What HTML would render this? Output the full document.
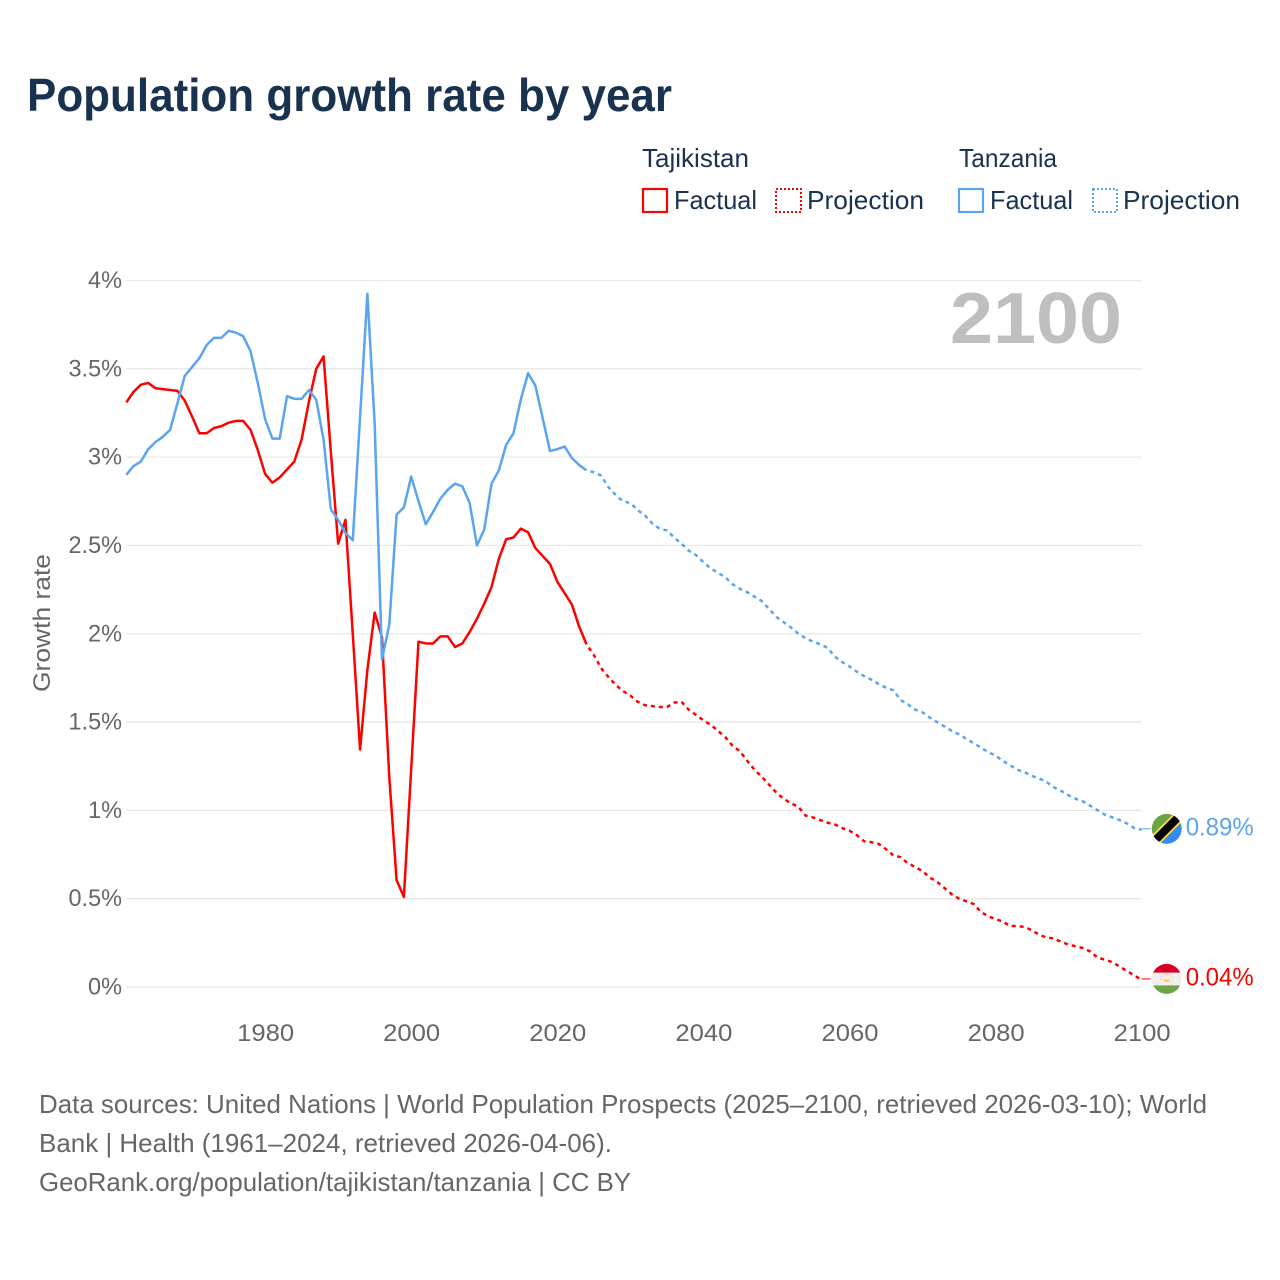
<!DOCTYPE html>
<html lang="en">
<head>
<meta charset="utf-8">
<title>Population growth rate by year</title>
<style>
html,body{margin:0;padding:0;background:#fff;}
svg{display:block;font-family:"Liberation Sans",sans-serif;}
</style>
</head>
<body>
<svg id="chart" xmlns="http://www.w3.org/2000/svg" width="1280" height="1280" viewBox="0 0 1280 1280">
  <rect x="0" y="0" width="1280" height="1280" fill="#ffffff"/>
  <text x="27" y="111" font-size="46" font-weight="700" fill="#18324f" textLength="645" lengthAdjust="spacingAndGlyphs">Population growth rate by year</text>

  <g font-size="26" fill="#18324f">
    <text x="642" y="167" textLength="107" lengthAdjust="spacingAndGlyphs">Tajikistan</text>
    <rect x="643" y="189" width="24" height="23" fill="none" stroke="#ff0000" stroke-width="2.2"/>
    <text x="674" y="209" textLength="83" lengthAdjust="spacingAndGlyphs">Factual</text>
    <rect x="776" y="189" width="25" height="23" fill="none" stroke="#ff0000" stroke-width="2" stroke-dasharray="2 2"/>
    <text x="807" y="209" textLength="117" lengthAdjust="spacingAndGlyphs">Projection</text>
    <text x="959" y="167" textLength="98" lengthAdjust="spacingAndGlyphs">Tanzania</text>
    <rect x="959" y="189" width="24" height="23" fill="none" stroke="#5ba4ee" stroke-width="2.2"/>
    <text x="990" y="209" textLength="83" lengthAdjust="spacingAndGlyphs">Factual</text>
    <rect x="1093" y="189" width="24" height="23" fill="none" stroke="#5ba4ee" stroke-width="2" stroke-dasharray="2 2"/>
    <text x="1123" y="209" textLength="117" lengthAdjust="spacingAndGlyphs">Projection</text>
  </g>

  <g id="grid"></g>
  <text x="950" y="343" font-size="72" font-weight="700" fill="#bfbfbf" textLength="172" lengthAdjust="spacingAndGlyphs">2100</text>
  <g id="yTicks" font-size="24" fill="#666666"></g>
  <g id="xTicks" font-size="24" fill="#666666"></g>
  <text transform="translate(50,623) rotate(-90)" text-anchor="middle" font-size="24" fill="#666666" textLength="138" lengthAdjust="spacingAndGlyphs">Growth rate</text>
  <g id="series" fill="none" stroke-width="2.5" stroke-linejoin="round"></g>

  <defs>
    <clipPath id="flagClipTz"><circle id="clipTz" r="15" cx="1167" cy="829"/></clipPath>
    <clipPath id="flagClipTj"><circle id="clipTj" r="15" cx="1167" cy="979"/></clipPath>
  </defs>
  <g id="flagTz" clip-path="url(#flagClipTz)"></g>
  <g id="flagTj" clip-path="url(#flagClipTj)"></g>
  <g id="endLabels" font-size="25"></g>

  <g font-size="26" fill="#666666">
    <text x="39" y="1113" textLength="1168" lengthAdjust="spacingAndGlyphs">Data sources: United Nations | World Population Prospects (2025–2100, retrieved 2026-03-10); World</text>
    <text x="39" y="1152" textLength="573" lengthAdjust="spacingAndGlyphs">Bank | Health (1961–2024, retrieved 2026-04-06).</text>
    <text x="39" y="1191" textLength="592" lengthAdjust="spacingAndGlyphs">GeoRank.org/population/tajikistan/tanzania | CC BY</text>
  </g>
</svg>
<script>
const factualYears = [1961,1962,1963,1964,1965,1966,1967,1968,1969,1970,1971,1972,1973,1974,1975,1976,1977,1978,1979,1980,1981,1982,1983,1984,1985,1986,1987,1988,1989,1990,1991,1992,1993,1994,1995,1996,1997,1998,1999,2000,2001,2002,2003,2004,2005,2006,2007,2008,2009,2010,2011,2012,2013,2014,2015,2016,2017,2018,2019,2020,2021,2022,2023,2024];
const projectionYears = [2024,2025,2026,2027,2028,2029,2030,2031,2032,2033,2034,2035,2036,2037,2038,2039,2040,2041,2042,2043,2044,2045,2046,2047,2048,2049,2050,2051,2052,2053,2054,2055,2056,2057,2058,2059,2060,2061,2062,2063,2064,2065,2066,2067,2068,2069,2070,2071,2072,2073,2074,2075,2076,2077,2078,2079,2080,2081,2082,2083,2084,2085,2086,2087,2088,2089,2090,2091,2092,2093,2094,2095,2096,2097,2098,2099,2100];
const tajikistanFactual = [3.31,3.37,3.41,3.42,3.39,3.385,3.38,3.375,3.32,3.23,3.135,3.135,3.165,3.175,3.195,3.205,3.205,3.155,3.04,2.905,2.855,2.885,2.93,2.975,3.10,3.315,3.50,3.57,3.03,2.51,2.645,2.0,1.345,1.795,2.12,1.98,1.19,0.605,0.51,1.235,1.955,1.945,1.945,1.985,1.985,1.925,1.945,2.01,2.085,2.17,2.265,2.425,2.535,2.545,2.595,2.575,2.485,2.44,2.395,2.295,2.23,2.165,2.04,1.94];
const tanzaniaFactual = [2.90,2.95,2.975,3.045,3.085,3.115,3.155,3.305,3.46,3.51,3.56,3.635,3.675,3.675,3.715,3.705,3.685,3.60,3.42,3.215,3.105,3.105,3.345,3.33,3.33,3.38,3.325,3.10,2.705,2.645,2.57,2.53,3.225,3.925,3.19,1.855,2.05,2.675,2.715,2.89,2.75,2.62,2.69,2.765,2.815,2.85,2.835,2.74,2.50,2.59,2.85,2.925,3.07,3.135,3.325,3.475,3.405,3.22,3.035,3.045,3.06,2.995,2.955,2.925];
const tajikistanProjection = [1.94,1.88,1.805,1.755,1.71,1.675,1.65,1.615,1.595,1.59,1.585,1.585,1.61,1.615,1.57,1.54,1.51,1.485,1.45,1.415,1.365,1.335,1.28,1.23,1.19,1.145,1.10,1.065,1.04,1.02,0.97,0.96,0.945,0.93,0.92,0.90,0.885,0.86,0.825,0.82,0.81,0.78,0.745,0.735,0.70,0.68,0.655,0.62,0.595,0.56,0.525,0.50,0.485,0.47,0.425,0.40,0.385,0.37,0.345,0.345,0.34,0.32,0.295,0.28,0.275,0.255,0.24,0.23,0.22,0.20,0.165,0.155,0.14,0.115,0.09,0.065,0.04];
const tanzaniaProjection = [2.925,2.915,2.895,2.83,2.785,2.75,2.74,2.70,2.67,2.625,2.595,2.585,2.545,2.51,2.47,2.445,2.405,2.37,2.345,2.32,2.28,2.255,2.235,2.21,2.185,2.14,2.095,2.065,2.035,2.00,1.975,1.955,1.94,1.92,1.87,1.84,1.815,1.785,1.76,1.74,1.715,1.695,1.68,1.625,1.60,1.57,1.555,1.525,1.50,1.475,1.45,1.43,1.405,1.38,1.355,1.33,1.31,1.28,1.255,1.23,1.215,1.195,1.18,1.16,1.13,1.11,1.085,1.065,1.05,1.025,1.00,0.975,0.96,0.945,0.925,0.90,0.89];
const yTickValues = [0,0.5,1,1.5,2,2.5,3,3.5,4];
const yTickLabels = ['0%','0.5%','1%','1.5%','2%','2.5%','3%','3.5%','4%'];
const xTickValues = [1980,2000,2020,2040,2060,2080,2100];
const xTickLabels = ['1980','2000','2020','2040','2060','2080','2100'];

const NS = 'http://www.w3.org/2000/svg';
const plot = {left:126.3, right:1141.7, zeroY:987, topY:280.5, minYear:1961, maxYear:2100, maxValue:4};
const xScale = function(year){ return plot.left + (year - plot.minYear) * (plot.right - plot.left) / (plot.maxYear - plot.minYear); };
const yScale = function(value){ return plot.zeroY - value * (plot.zeroY - plot.topY) / plot.maxValue; };
const RED = '#ff0000';
const BLUE = '#5ba4ee';

function make(tag, attrs, parent, text){
  const node = document.createElementNS(NS, tag);
  for (const key in attrs) node.setAttribute(key, attrs[key]);
  if (text !== undefined) node.textContent = text;
  parent.appendChild(node);
  return node;
}
function linePath(years, values){
  return values.map(function(v, i){ return (i ? 'L' : 'M') + xScale(years[i]).toFixed(2) + ' ' + yScale(v).toFixed(2); }).join('');
}
function tickWidth(label){
  let w = 0;
  for (const c of label) w += c === '%' ? 20 : c === '.' ? 5.5 : 14;
  return w;
}

const gridG = document.getElementById('grid');
const yTickG = document.getElementById('yTicks');
yTickValues.forEach(function(v, i){
  const gl = make('line', {x1:plot.left, x2:plot.right, y1:yScale(v), y2:yScale(v), stroke:'#e8e8e8', 'stroke-width':1.3}, gridG);
  
  
  const label = yTickLabels[i];
  const t = make('text', {x:122, y:yScale(v) + 7.5, 'text-anchor':'end', textLength:tickWidth(label), lengthAdjust:'spacingAndGlyphs'}, yTickG, label);
  
  
});

const xTickG = document.getElementById('xTicks');
xTickValues.forEach(function(v, i){
  const t = make('text', {x:xScale(v) + 0.5, y:1041, 'text-anchor':'middle', textLength:57, lengthAdjust:'spacingAndGlyphs'}, xTickG, xTickLabels[i]);
  
  
});

const seriesG = document.getElementById('series');
const tjFactual = make('path', {d:linePath(factualYears, tajikistanFactual), stroke:RED}, seriesG);


const tjProjection = make('path', {d:linePath(projectionYears, tajikistanProjection), stroke:RED, 'stroke-dasharray':'4 4', 'stroke-dashoffset':'4'}, seriesG);


const tzFactual = make('path', {d:linePath(factualYears, tanzaniaFactual), stroke:BLUE}, seriesG);


const tzProjection = make('path', {d:linePath(projectionYears, tanzaniaProjection), stroke:BLUE, 'stroke-dasharray':'4 4', 'stroke-dashoffset':'4'}, seriesG);



const lastTj = tajikistanProjection[tajikistanProjection.length - 1];
const lastTz = tanzaniaProjection[tanzaniaProjection.length - 1];
const endX = xScale(plot.maxYear);
const tzY = yScale(lastTz) - 1;
const tjY = yScale(lastTj) - 1;
const leaderTj = make('line', {x1:endX, x2:endX + 9, y1:tjY, y2:tjY, stroke:RED, 'stroke-width':1}, seriesG);


const leaderTz = make('line', {x1:endX, x2:endX + 9, y1:tzY, y2:tzY, stroke:BLUE, 'stroke-width':1}, seriesG);



/* end flags follow the last values */
const cx = endX + 25;
document.getElementById('clipTz').setAttribute('cx', cx);
document.getElementById('clipTz').setAttribute('cy', tzY);
document.getElementById('clipTj').setAttribute('cx', cx);
document.getElementById('clipTj').setAttribute('cy', tjY);

const tzG = document.getElementById('flagTz');
make('circle', {cx:cx, cy:tzY, r:15, fill:'#6da544'}, tzG);
make('path', {d:'M' + (cx - 16) + ' ' + (tzY + 16) + 'L' + (cx + 16) + ' ' + (tzY - 16) + 'L' + (cx + 16) + ' ' + (tzY + 16) + 'Z', fill:'#338af3'}, tzG);
make('rect', {x:cx - 24, y:tzY - 5.8, width:48, height:11.6, fill:'#ffda44', transform:'rotate(-45 ' + cx + ' ' + tzY + ')'}, tzG);
make('rect', {x:cx - 24, y:tzY - 4, width:48, height:8, fill:'#000000', transform:'rotate(-45 ' + cx + ' ' + tzY + ')'}, tzG);

const tjG = document.getElementById('flagTj');
make('rect', {x:cx - 16, y:tjY - 16, width:32, height:32, fill:'#f0f0f0'}, tjG);
make('rect', {x:cx - 16, y:tjY - 16, width:32, height:9.7, fill:'#d80027'}, tjG);
make('rect', {x:cx - 16, y:tjY + 6.5, width:32, height:9.5, fill:'#6da544'}, tjG);
make('rect', {x:cx - 3, y:tjY + 0.5, width:6, height:2.5, fill:'#ffda44'}, tjG);
make('path', {d:'M' + (cx - 6) + ' ' + (tjY + 1) + 'A6 6 0 0 1 ' + (cx + 6) + ' ' + (tjY + 1), fill:'none', stroke:'#ffc9a8', 'stroke-width':1.4, 'stroke-dasharray':'1.5 1.5'}, tjG);

const endG = document.getElementById('endLabels');
const endTz = make('text', {x:endX + 44, y:tzY + 6.5, fill:BLUE, textLength:68, lengthAdjust:'spacingAndGlyphs'}, endG, lastTz.toFixed(2) + '%');


const endTj = make('text', {x:endX + 44, y:tjY + 6.5, fill:RED, textLength:68, lengthAdjust:'spacingAndGlyphs'}, endG, lastTj.toFixed(2) + '%');


</script>
</body>
</html>
